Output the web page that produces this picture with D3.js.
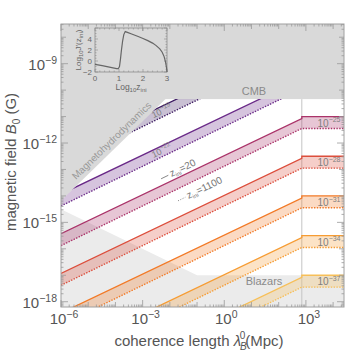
<!DOCTYPE html>
<html>
<head>
<meta charset="utf-8">
<script src="https://cdn.jsdelivr.net/npm/d3@7"></script>
<style>
body { margin: 0; background: #fff; }
text { font-family: "Liberation Sans", Arial, sans-serif; }
</style>
</head>
<body>
<div id="chart"></div>
<script>
const WIDTH = 348, HEIGHT = 354;
const PLOT = {LEFT: 61, RIGHT: 344, TOP: 24, BOTTOM: 307};

// bands: exponent label, solid line (z_ini=20) and dotted line (z_ini=1100), log10 B
const bandExps = [-19, -22, -25, -28, -31, -34, -37];
const solidLeft = [-12.43, -13.93, -15.43, -16.93, -18.43, -19.93, -21.43];   // at lambda = 1e-6
const solidKink = [-8.08, -9.58, -11.08, -12.58, -14.08, -15.58, -17.08];    // just before the kink
const solidPlateau = [-8, -9.5, -11, -12.5, -14, -15.5, -17];                // beyond the kink
const dottedLeft = [-12.88, -14.38, -15.88, -17.38, -18.88, -20.38, -21.88];
const dottedKink = [-8.45, -9.95, -11.45, -12.95, -14.45, -15.95, -17.45];
const dottedPlateau = [-8.45, -9.95, -11.45, -12.95, -14.45, -15.95, -17.45];
const bandColors = ["#3d1b62", "#6a2a88", "#aa3369", "#dc4e3c", "#f27a27", "#f69c33", "#f7bf58"];
const lambdaKink = 10 ** 2.85;
const lambdaMax = 10 ** 4.4;

// exclusion regions
const cmbLimit = 10 ** -10.34;
const mhdLambda = [1e-6, 10 ** -2.16];         // boundary B = 10^-8.18 * lambda
const mhdB = [10 ** -14.18, 10 ** -10.34];
const blazarLambda = [1e-6, 0.1, lambdaMax];
const blazarB = [10 ** -14.5, 1e-17, 1e-17];

// inset: Log10 J'(z_ini) vs Log10 z_ini
const zIni = [0, 0.3, 0.6, 0.9, 0.97, 1.02, 1.06, 1.1, 1.15, 1.2, 1.26, 1.35, 1.5, 1.8, 2.0, 2.2, 2.4, 2.55, 2.7, 2.8, 2.88, 2.94, 2.98, 3.0];
const jVal = [-0.6, -0.85, -1.1, -1.38, -1.4, -1.0, 0.3, 1.9, 3.6, 4.8, 5.35, 5.2, 4.95, 4.45, 4.1, 3.7, 3.25, 2.8, 2.2, 1.6, 0.8, -0.2, -1.2, -2.0];

const xTickExps = [-6, -3, 0, 3];
const yTickExps = [-9, -12, -15, -18];

const svg = d3.select("#chart").append("svg")
    .attr("width", WIDTH)
    .attr("height", HEIGHT);

const x = d3.scaleLog().domain([1e-6, lambdaMax]).range([PLOT.LEFT, PLOT.RIGHT]);
const y = d3.scaleLog().domain([10 ** -18.2, 10 ** -7.5]).range([PLOT.BOTTOM, PLOT.TOP]);

const defs = svg.append("defs");
defs.append("clipPath").attr("id", "plotClip")
    .append("rect")
    .attr("x", PLOT.LEFT).attr("y", PLOT.TOP)
    .attr("width", PLOT.RIGHT - PLOT.LEFT).attr("height", PLOT.BOTTOM - PLOT.TOP);

// bands are cut by the CMB limit and the MHD boundary
const allowed = [
    [x(1e-6), y(mhdB[0])], [x(mhdLambda[1]), y(mhdB[1])], [x(lambdaMax), y(cmbLimit)],
    [x(lambdaMax), PLOT.BOTTOM], [x(1e-6), PLOT.BOTTOM]
];
defs.append("clipPath").attr("id", "bandClip")
    .append("path")
    .attr("d", "M" + allowed.join("L") + "Z");

const plot = svg.append("g").attr("clip-path", "url(#plotClip)");

// blazar region
const blazarArea = d3.area()
    .x(d => x(d[0]))
    .y0(PLOT.BOTTOM)
    .y1(d => y(d[1]));
plot.append("path")
    .datum(blazarLambda.map((l, i) => [l, blazarB[i]]))
    .attr("d", blazarArea)
    .attr("fill", "#ebebeb");

// CMB region
plot.append("rect")
    .attr("x", PLOT.LEFT).attr("y", PLOT.TOP)
    .attr("width", PLOT.RIGHT - PLOT.LEFT)
    .attr("height", y(cmbLimit) - PLOT.TOP)
    .attr("fill", "#d9d9d9");

// MHD region
plot.append("path")
    .attr("d", "M" + [
        [x(1e-6), y(mhdB[0])], [x(mhdLambda[1]), y(mhdB[1])], [x(mhdLambda[1]), PLOT.TOP], [x(1e-6), PLOT.TOP]
    ].join("L") + "Z")
    .attr("fill", "#d9d9d9");

// vertical line at the kink
plot.append("line")
    .attr("x1", x(lambdaKink)).attr("x2", x(lambdaKink))
    .attr("y1", y(cmbLimit)).attr("y2", PLOT.BOTTOM)
    .attr("stroke", "#c4c4c4").attr("stroke-width", 1);

// bands
const bandLambda = [1e-6, lambdaKink, lambdaKink, lambdaMax];
const bands = plot.append("g").attr("clip-path", "url(#bandClip)");
bandExps.forEach((e, i) => {
    const solid = [solidLeft[i], solidKink[i], solidPlateau[i], solidPlateau[i]];
    const dotted = [dottedLeft[i], dottedKink[i], dottedPlateau[i], dottedPlateau[i]];
    const pts = bandLambda.map((l, j) => ({l: l, top: 10 ** solid[j], bot: 10 ** dotted[j]}));
    bands.append("path")
        .datum(pts)
        .attr("d", d3.area().x(d => x(d.l)).y0(d => y(d.bot)).y1(d => y(d.top)))
        .attr("fill", bandColors[i])
        .attr("fill-opacity", 0.28);
    bands.append("path")
        .datum(pts)
        .attr("d", d3.line().x(d => x(d.l)).y(d => y(d.top)))
        .attr("fill", "none")
        .attr("stroke", bandColors[i])
        .attr("stroke-width", 1.3);
    bands.append("path")
        .datum(pts)
        .attr("d", d3.line().x(d => x(d.l)).y(d => y(d.bot)))
        .attr("fill", "none")
        .attr("stroke", bandColors[i])
        .attr("stroke-width", 1.4)
        .attr("stroke-dasharray", "1.4,1.4");
});

// slope angle of the bands on screen
const bandAngle = Math.atan2(y(1e-12) - y(10 ** -11.5), x(10) - x(1)) * 180 / Math.PI;
const mhdAngle = Math.atan2(y(mhdB[0]) - y(mhdB[1]), x(mhdLambda[1]) - x(mhdLambda[0])) * 180 / Math.PI;

function expLabel(sel, e, baseSize, supSize) {
    sel.append("tspan").text("10");
    sel.append("tspan").attr("font-size", supSize).attr("dy", -baseSize * 0.42).text("\u2212" + Math.abs(e));
}

// band labels
bandExps.forEach((e, i) => {
    if (i < 2) {
        const lx = 10 ** -2.25;
        const mid = (solidLeft[i] + dottedLeft[i]) / 2 + 0.5 * (Math.log10(lx) + 6);
        const t = plot.append("text")
            .attr("transform", `translate(${x(lx)},${y(10 ** mid) + 3}) rotate(${-bandAngle})`)
            .attr("text-anchor", "middle")
            .attr("font-size", 9)
            .attr("fill", "#808080");
        expLabel(t, e, 9, 6.5);
    } else {
        const mid = (solidPlateau[i] + dottedPlateau[i]) / 2;
        const t = plot.append("text")
            .attr("x", 329)
            .attr("y", y(10 ** mid) + 4)
            .attr("text-anchor", "middle")
            .attr("font-size", 10)
            .attr("fill", "#808080");
        expLabel(t, e, 10, 7);
    }
});

// region labels
plot.append("text")
    .attr("x", 254).attr("y", y(cmbLimit) - 4)
    .attr("text-anchor", "middle").attr("font-size", 11).attr("fill", "#8a8a8a")
    .text("CMB");
plot.append("text")
    .attr("x", 264).attr("y", y(1e-17) + 10)
    .attr("text-anchor", "middle").attr("font-size", 11).attr("fill", "#8a8a8a")
    .text("Blazars");
plot.append("text")
    .attr("transform", `translate(114,143) rotate(${-mhdAngle})`)
    .attr("text-anchor", "middle").attr("font-size", 10).attr("fill", "#9a9a9a")
    .text("Magnetohydrodynamics");

// z_ini legend labels along the bands
function zLabel(cx, cy, value, dash) {
    const g = plot.append("g").attr("transform", `translate(${cx},${cy}) rotate(${-bandAngle})`);
    g.append("line")
        .attr("x1", -24).attr("x2", -16).attr("y1", -3).attr("y2", -3)
        .attr("stroke", "#777").attr("stroke-width", 0.8)
        .attr("stroke-dasharray", dash);
    const t = g.append("text").attr("x", -14).attr("font-size", 10).attr("fill", "#777");
    t.append("tspan").text("z");
    t.append("tspan").attr("font-size", 6).attr("dy", 2).text("ini");
    t.append("tspan").attr("dy", -2).text("=" + value);
}
zLabel(184, 171, "20", null);
zLabel(201, 193, "1100", "1,1.5");

// frame and ticks
const frame = svg.append("g");
frame.append("rect")
    .attr("x", PLOT.LEFT).attr("y", PLOT.TOP)
    .attr("width", PLOT.RIGHT - PLOT.LEFT).attr("height", PLOT.BOTTOM - PLOT.TOP)
    .attr("fill", "none").attr("stroke", "#a0a0a0").attr("stroke-width", 1);

function logTicks(lo, hi) {
    const out = [];
    for (let e = Math.floor(lo); e <= Math.ceil(hi); e++) {
        for (let m = 1; m < 10; m++) {
            const v = m * 10 ** e;
            const lv = Math.log10(v);
            if (lv >= lo && lv <= hi) out.push({v: v, m: m, e: e});
        }
    }
    return out;
}
const tickLen = t => (t.m === 1 ? (t.e % 3 === 0 ? 7 : 5) : 2.5);
const xt = logTicks(-6, 4.4);
const yt = logTicks(-18.2, -7.5);
frame.selectAll(".xtb").data(xt).enter().append("line")
    .attr("x1", d => x(d.v)).attr("x2", d => x(d.v))
    .attr("y1", PLOT.BOTTOM).attr("y2", d => PLOT.BOTTOM - tickLen(d))
    .attr("stroke", "#999").attr("stroke-width", 0.8);
frame.selectAll(".xtt").data(xt).enter().append("line")
    .attr("x1", d => x(d.v)).attr("x2", d => x(d.v))
    .attr("y1", PLOT.TOP).attr("y2", d => PLOT.TOP + tickLen(d))
    .attr("stroke", "#999").attr("stroke-width", 0.8);
frame.selectAll(".ytl").data(yt).enter().append("line")
    .attr("y1", d => y(d.v)).attr("y2", d => y(d.v))
    .attr("x1", PLOT.LEFT).attr("x2", d => PLOT.LEFT + tickLen(d))
    .attr("stroke", "#999").attr("stroke-width", 0.8);
frame.selectAll(".ytr").data(yt).enter().append("line")
    .attr("y1", d => y(d.v)).attr("y2", d => y(d.v))
    .attr("x1", PLOT.RIGHT).attr("x2", d => PLOT.RIGHT - tickLen(d))
    .attr("stroke", "#999").attr("stroke-width", 0.8);

xTickExps.forEach(e => {
    const t = svg.append("text")
        .attr("x", x(10 ** e) + (e === 0 ? 2 : 3)).attr("y", 324)
        .attr("text-anchor", "middle").attr("font-size", 15).attr("fill", "#555");
    t.append("tspan").text("10");
    t.append("tspan").attr("font-size", 10.5).attr("dy", -6).text(e === 0 ? "0" : (e < 0 ? "\u2212" : "") + Math.abs(e));
});
yTickExps.forEach(e => {
    const t = svg.append("text")
        .attr("x", 57).attr("y", y(10 ** e) + 6)
        .attr("text-anchor", "end").attr("font-size", 15).attr("fill", "#555");
    t.append("tspan").text("10");
    t.append("tspan").attr("font-size", 10.5).attr("dy", -6).text("\u2212" + Math.abs(e));
});

// axis titles
const xt1 = svg.append("text")
    .attr("x", 199).attr("y", 346)
    .attr("text-anchor", "middle").attr("font-size", 15).attr("fill", "#555");
xt1.append("tspan").text("coherence length ");
xt1.append("tspan").attr("font-style", "italic").text("\u03bb");
xt1.append("tspan").attr("font-size", 10).attr("font-style", "italic").attr("dy", 4).attr("dx", -1).text("B");
xt1.append("tspan").attr("font-size", 10).attr("dy", -11).attr("dx", -7).text("0");
xt1.append("tspan").attr("dy", 7).text("(Mpc)");

const yt1 = svg.append("text")
    .attr("transform", "translate(16,162) rotate(-90)")
    .attr("text-anchor", "middle").attr("font-size", 15).attr("fill", "#555");
yt1.append("tspan").text("magnetic field ");
yt1.append("tspan").attr("font-style", "italic").text("B");
yt1.append("tspan").attr("font-size", 10).attr("dy", 4).text("0");
yt1.append("tspan").attr("dy", -4).text(" (G)");

// inset
const IN = {LEFT: 95, RIGHT: 167, TOP: 28, BOTTOM: 72};
const ix = d3.scaleLinear().domain([0, 3]).range([IN.LEFT, IN.RIGHT]);
const iy = d3.scaleLinear().domain([-2, 6]).range([IN.BOTTOM, IN.TOP]);
const inset = svg.append("g");
inset.append("rect")
    .attr("x", IN.LEFT).attr("y", IN.TOP)
    .attr("width", IN.RIGHT - IN.LEFT).attr("height", IN.BOTTOM - IN.TOP)
    .attr("fill", "none").attr("stroke", "#8c8c8c").attr("stroke-width", 0.8);
const ixTicks = d3.range(0, 3.01, 0.2);
inset.selectAll(".ixt").data(ixTicks).enter().append("line")
    .attr("x1", d => ix(d)).attr("x2", d => ix(d))
    .attr("y1", IN.BOTTOM).attr("y2", d => IN.BOTTOM - (Math.abs(d - Math.round(d)) < 1e-6 ? 3 : 1.5))
    .attr("stroke", "#8c8c8c").attr("stroke-width", 0.6);
inset.selectAll(".ixtt").data(ixTicks).enter().append("line")
    .attr("x1", d => ix(d)).attr("x2", d => ix(d))
    .attr("y1", IN.TOP).attr("y2", d => IN.TOP + (Math.abs(d - Math.round(d)) < 1e-6 ? 3 : 1.5))
    .attr("stroke", "#8c8c8c").attr("stroke-width", 0.6);
const iyTicks = d3.range(-2, 6.01, 0.5);
inset.selectAll(".iyt").data(iyTicks).enter().append("line")
    .attr("y1", d => iy(d)).attr("y2", d => iy(d))
    .attr("x1", IN.LEFT).attr("x2", d => IN.LEFT + (d % 2 === 0 ? 3 : 1.5))
    .attr("stroke", "#8c8c8c").attr("stroke-width", 0.6);
inset.selectAll(".iytr").data(iyTicks).enter().append("line")
    .attr("y1", d => iy(d)).attr("y2", d => iy(d))
    .attr("x1", IN.RIGHT).attr("x2", d => IN.RIGHT - (d % 2 === 0 ? 3 : 1.5))
    .attr("stroke", "#8c8c8c").attr("stroke-width", 0.6);
inset.selectAll(".ixl").data([0, 1, 2, 3]).enter().append("text")
    .attr("x", d => ix(d)).attr("y", IN.BOTTOM + 9)
    .attr("text-anchor", "middle").attr("font-size", 8).attr("fill", "#666")
    .text(d => d);
inset.selectAll(".iyl").data([-2, 0, 2, 4]).enter().append("text")
    .attr("x", IN.LEFT - 3).attr("y", d => iy(d) + 3)
    .attr("text-anchor", "end").attr("font-size", 8).attr("fill", "#666")
    .text(d => d < 0 ? "\u2212" + Math.abs(d) : d);
const ixl = inset.append("text")
    .attr("x", ix(1.5)).attr("y", IN.BOTTOM + 18)
    .attr("text-anchor", "middle").attr("font-size", 8.5).attr("fill", "#666");
ixl.append("tspan").text("Log");
ixl.append("tspan").attr("font-size", 6).attr("dy", 2).text("10");
ixl.append("tspan").attr("dy", -2).text("z");
ixl.append("tspan").attr("font-size", 6).attr("dy", 2).text("ini");
const iyl = inset.append("text")
    .attr("transform", `translate(81,${iy(2)}) rotate(-90)`)
    .attr("text-anchor", "middle").attr("font-size", 8).attr("fill", "#666");
iyl.append("tspan").text("Log");
iyl.append("tspan").attr("font-size", 6).attr("dy", 2).text("10");
iyl.append("tspan").attr("dy", -2).text("J\u2032(z");
iyl.append("tspan").attr("font-size", 6).attr("dy", 2).text("ini");
iyl.append("tspan").attr("dy", -2).text(")");
inset.append("path")
    .datum(zIni.map((z, i) => [z, jVal[i]]))
    .attr("d", d3.line().x(d => ix(d[0])).y(d => iy(d[1])))
    .attr("fill", "none").attr("stroke", "#666").attr("stroke-width", 1.2);
</script>
</body>
</html>
